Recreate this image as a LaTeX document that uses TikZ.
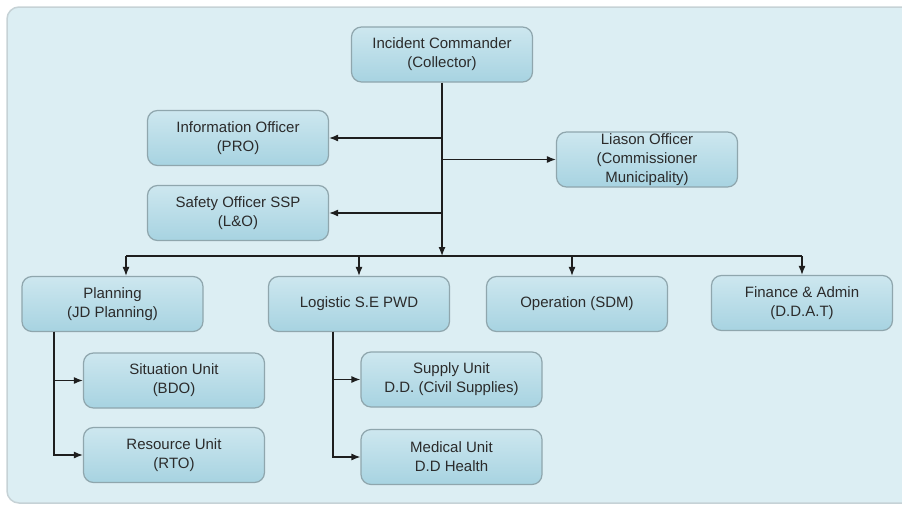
\documentclass[tikz,border=0pt]{standalone}
\usepackage{fontspec}
\setmainfont{Liberation Sans}
\usetikzlibrary{arrows.meta,positioning}
\definecolor{panelfill}{HTML}{DCEEF3}
\definecolor{panelline}{HTML}{C6D2D6}
\definecolor{boxtop}{HTML}{CDE7EF}
\definecolor{boxbottom}{HTML}{A7D3E1}
\definecolor{boxline}{HTML}{8FA6AD}
\definecolor{textgrey}{HTML}{2B2B2B}
\definecolor{linkgrey}{HTML}{1E1E1E}
\tikzset{
  panel/.style={draw=panelline, fill=panelfill, line width=1.5pt, rounded corners=12pt},
  unit/.style={draw=boxline, line width=1.2pt, rounded corners=10pt,
    top color=boxtop, bottom color=boxbottom,
    minimum width=181pt, minimum height=55pt, inner sep=1pt, align=center,
    font=\fontsize{15}{19}\selectfont, text=textgrey},
  link/.style={draw=linkgrey, line width=1.2pt},
  feed/.style={link, -{Latex[length=9pt,width=7pt]}}
}
\begin{document}
\begin{tikzpicture}[x=1pt,y=-1pt]
\useasboundingbox (0,0) rectangle (902,506);
\draw[panel] (7,7) rectangle (940,503);

% command staff
\node[unit] (cmdr) at (442,54.5) {Incident Commander\\(Collector)};
\node[unit] (info) at (238,138) {Information Officer\\(PRO)};
\node[unit] (safety) at (238,213) {Safety Officer SSP\\(L\&O)};
\node[unit] (liaison) at (647,159.5) {Liason Officer\\(Commissioner\\Municipality)};

% sections
\node[unit] (plan) at (112.5,304) {Planning\\(JD Planning)};
\node[unit] (logi) at (359,304) {Logistic S.E PWD};
\node[unit] (oper) at (577,304) {Operation (SDM)};
\node[unit] (fin) at (802,303) {Finance \& Admin\\(D.D.A.T)};

% units
\node[unit] (sit) at (174,380.5) {Situation Unit\\(BDO)};
\node[unit] (res) at (174,455) {Resource Unit\\(RTO)};
\node[unit] (supply) at (451.5,379.5) {Supply Unit\\D.D. (Civil Supplies)};
\node[unit] (medical) at (451.5,457) {Medical Unit\\D.D Health};

% bus and spines
\coordinate (busplan) at (126,256);
\coordinate (buslogi) at (359,256);
\coordinate (busoper) at (572,256);
\coordinate (busfin) at (802,256);
\coordinate (pspine) at (54,331.5);
\coordinate (lspine) at (333,331.5);

\draw[feed] (cmdr.south) -- (cmdr.south |- busplan);
\draw[feed] (cmdr.south |- info.east) -- (info.east);
\draw[feed] (cmdr.south |- safety.east) -- (safety.east);
\draw[feed] (cmdr.south |- liaison.west) -- (liaison.west);
\draw[link] (busplan) -- (busfin);
\draw[feed] (busplan) -- (busplan |- plan.north);
\draw[feed] (buslogi) -- (buslogi |- logi.north);
\draw[feed] (busoper) -- (busoper |- oper.north);
\draw[feed] (busfin) -- (busfin |- fin.north);
\draw[feed] (pspine) |- (sit.west);
\draw[feed] (pspine) |- (res.west);
\draw[feed] (lspine) |- (supply.west);
\draw[feed] (lspine) |- (medical.west);
\end{tikzpicture}
\end{document}
